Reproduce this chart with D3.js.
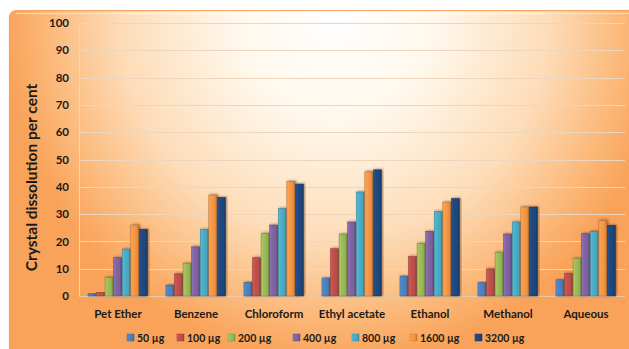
<!DOCTYPE html>
<html>
<head>
<meta charset="utf-8">
<script src="https://cdn.jsdelivr.net/npm/d3@7"></script>
<style>
  html, body { margin: 0; padding: 0; background: #ffffff; }
  svg { display: block; }
  text { font-family: Lato, "Open Sans", sans-serif; }
</style>
</head>
<body>
<div id="chart"></div>
<script>
// Solvents tested
const categories = ["Pet Ether", "Benzene", "Chloroform", "Ethyl acetate", "Ethanol", "Methanol", "Aqueous"];
// Dose series
const seriesNames = ["50 µg", "100 µg", "200 µg", "400 µg", "800 µg", "1600 µg", "3200 µg"];
// Crystal dissolution (%) per dose, one array per solvent order above
const dose50   = [0.8, 4, 5, 6.6, 7.3, 4.9, 5.9];
const dose100  = [1.3, 8.1, 14, 17.3, 14.4, 9.9, 8.2];
const dose200  = [6.8, 12, 23, 22.7, 19.2, 16, 13.8];
const dose400  = [14, 18, 26, 27.1, 23.7, 22.7, 22.8];
const dose800  = [17.2, 24.3, 32, 38.1, 30.9, 27.1, 23.6];
const dose1600 = [26, 37, 42, 45.5, 34.4, 32.6, 27.6];
const dose3200 = [24.4, 36.1, 41, 46.2, 35.7, 32.6, 25.9];
const yTicks = [0, 10, 20, 30, 40, 50, 60, 70, 80, 90, 100];

const seriesValues = [dose50, dose100, dose200, dose400, dose800, dose1600, dose3200];
const colors = ["#4F81BD", "#C0504D", "#9BBB59", "#8064A2", "#4BACC6", "#F79646", "#1F497D"];

const W = 629, H = 349;
const margin = { left: 79, right: 4, top: 23, bottom: 53 };

const svg = d3.select("#chart").append("svg").attr("width", W).attr("height", H);
const defs = svg.append("defs");

// Chart-area background: warm radial wash, white near top centre
const bg = defs.append("radialGradient")
  .attr("id", "bgGrad")
  .attr("gradientUnits", "userSpaceOnUse")
  .attr("cx", 335).attr("cy", 15).attr("r", 330)
  .attr("gradientTransform", "translate(335,15) scale(1,1.05) translate(-335,-15)");
bg.append("stop").attr("offset", 0).attr("stop-color", "#FFFFFF");
bg.append("stop").attr("offset", 0.3).attr("stop-color", "#FFF8EC");
bg.append("stop").attr("offset", 0.65).attr("stop-color", "#FDDCB8");
bg.append("stop").attr("offset", 0.88).attr("stop-color", "#FBB777");
bg.append("stop").attr("offset", 1).attr("stop-color", "#F9A35A");

// Cylinder-like shading for each bar colour
colors.forEach((c, i) => {
  const g = defs.append("linearGradient").attr("id", "bar" + i)
    .attr("x1", 0).attr("x2", 1).attr("y1", 0).attr("y2", 0);
  const base = d3.color(c);
  g.append("stop").attr("offset", 0).attr("stop-color", base.brighter(0.35));
  g.append("stop").attr("offset", 0.3).attr("stop-color", base.brighter(0.05));
  g.append("stop").attr("offset", 0.75).attr("stop-color", base.darker(0.1));
  g.append("stop").attr("offset", 1).attr("stop-color", base.darker(0.8));
});

// Soft drop shadow for the bars
const sh = defs.append("filter").attr("id", "shadow")
  .attr("x", "-30%").attr("y", "-10%").attr("width", "160%").attr("height", "120%");
sh.append("feDropShadow").attr("dx", 1.2).attr("dy", -0.5).attr("stdDeviation", 0.9)
  .attr("flood-color", "#4a2a10").attr("flood-opacity", 0.55);

svg.append("rect")
  .attr("x", 9.5).attr("y", 10.5).attr("width", W + 20).attr("height", H + 20)
  .attr("rx", 7).attr("ry", 7)
  .attr("fill", "url(#bgGrad)")
  .attr("stroke", "#F2A164").attr("stroke-width", 1.2);

// Light highlight along the top edge
svg.append("line")
  .attr("x1", 16).attr("x2", W).attr("y1", 13.5).attr("y2", 13.5)
  .attr("stroke", "#ffffff").attr("stroke-opacity", 0.6).attr("stroke-width", 1.2);

const x0 = d3.scaleBand().domain(categories)
  .range([margin.left, W - margin.right]).paddingInner(0.23).paddingOuter(0.115);
const x1 = d3.scaleBand().domain(d3.range(seriesNames.length))
  .range([0, x0.bandwidth()]).padding(0);
const y = d3.scaleLinear().domain([0, 100]).range([H - margin.bottom, margin.top]);

// Gridlines
svg.append("g").selectAll("line").data(yTicks.slice(1)).join("line")
  .attr("x1", margin.left).attr("x2", W - margin.right)
  .attr("y1", d => Math.round(y(d)) + 0.5).attr("y2", d => Math.round(y(d)) + 0.5)
  .attr("stroke", "#EED6BE").attr("stroke-width", 1);

// Plot-area frame edge on the left and baseline
svg.append("line")
  .attr("x1", margin.left + 0.5).attr("x2", margin.left + 0.5)
  .attr("y1", y(100)).attr("y2", y(0))
  .attr("stroke", "#F0D6BC");
svg.append("line")
  .attr("x1", margin.left).attr("x2", W - margin.right)
  .attr("y1", Math.round(y(0)) + 0.5).attr("y2", Math.round(y(0)) + 0.5)
  .attr("stroke", "#E9C9A8");

// Y axis tick labels
const yAxis = d3.axisLeft(y).tickValues(yTicks).tickSize(0).tickPadding(10);
const yg = svg.append("g").attr("transform", `translate(${margin.left},0)`).call(yAxis);
yg.select(".domain").remove();
yg.selectAll("text")
  .attr("font-family", "Lato, sans-serif").attr("font-size", 11.5)
  .attr("font-weight", 700).attr("fill", "#1a1a1a");

// X axis category labels
const xAxis = d3.axisBottom(x0).tickSize(0).tickPadding(14);
const xg = svg.append("g").attr("transform", `translate(0,${y(0)})`).call(xAxis);
xg.select(".domain").remove();
xg.selectAll("text")
  .attr("font-family", "Lato, sans-serif").attr("font-size", 11.5)
  .attr("font-weight", 700).attr("fill", "#1a1a1a");

// Bars
const groups = svg.append("g").selectAll("g").data(categories).join("g")
  .attr("transform", d => `translate(${x0(d)},0)`);
groups.selectAll("rect")
  .data((cat, ci) => seriesValues.map((vals, si) => ({ si, v: vals[ci] })))
  .join("rect")
  .attr("x", d => x1(d.si))
  .attr("width", x1.bandwidth() - 0.6)
  .attr("y", d => y(d.v))
  .attr("height", d => y(0) - y(d.v))
  .attr("fill", d => `url(#bar${d.si})`)
  .attr("stroke", d => d3.color(colors[d.si]).darker(1))
  .attr("stroke-width", 0.5)
  .attr("filter", "url(#shadow)");

// Y axis title
svg.append("text")
  .attr("transform", `translate(37,${(y(0) + y(100)) / 2 + 18}) rotate(-90)`)
  .attr("text-anchor", "middle")
  .attr("font-family", "Lato, sans-serif").attr("font-size", 15.5).attr("font-weight", 700)
  .attr("fill", "#1a1a1a")
  .text("Crystal dissolution per cent");

// Legend
const legendX = [127, 177, 228, 293, 352, 410, 475];
const legend = svg.append("g").selectAll("g").data(seriesNames).join("g")
  .attr("transform", (d, i) => `translate(${legendX[i]},338)`);
legend.append("rect")
  .attr("x", 0).attr("y", -4).attr("width", 7).attr("height", 7)
  .attr("fill", (d, i) => `url(#bar${i})`)
  .attr("stroke", (d, i) => d3.color(colors[i]).darker(0.6)).attr("stroke-width", 0.5);
legend.append("text")
  .attr("x", 10).attr("y", 3.5)
  .attr("font-family", "Lato, sans-serif").attr("font-size", 10.5).attr("font-weight", 700)
  .attr("fill", "#1a1a1a")
  .text(d => d);
</script>
</body>
</html>
